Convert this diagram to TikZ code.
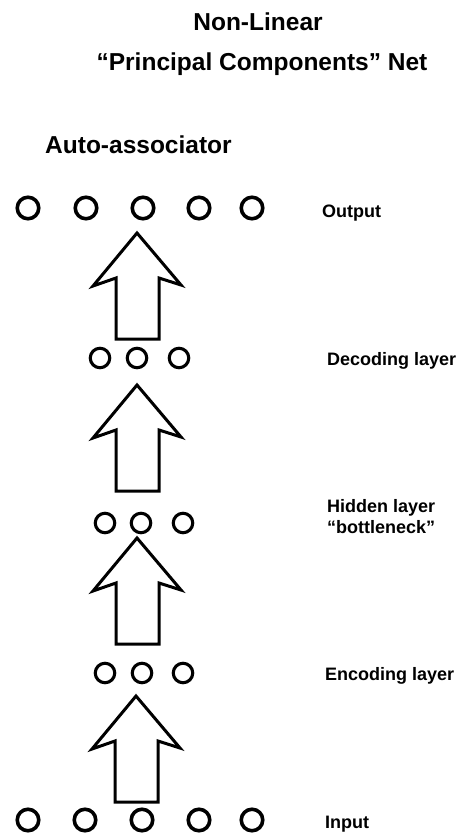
\documentclass[tikz,border=0pt]{standalone}
\usepackage{fontspec}
\setmainfont{Liberation Sans}
\begin{document}
\begin{tikzpicture}[x=1pt,y=-1pt,
  bigunit/.style={circle,draw,line width=3.6pt,minimum size=21.5pt,inner sep=0pt},
  smallunit/.style={circle,draw,line width=3.1pt,minimum size=19.5pt,inner sep=0pt},
  titletext/.style={font=\bfseries\fontsize{24.5}{28}\selectfont,inner sep=0pt},
  labeltext/.style={font=\bfseries\fontsize{18}{22}\selectfont,inner sep=0pt,anchor=base west,align=left},
  blockarrow/.style={line width=3pt,line join=miter,fill=white}]
\useasboundingbox (0,0) rectangle (461,834);
% titles
\node[titletext,anchor=base] (t1) at (258,31) {Non-Linear};
\node[titletext,anchor=base] (t2) at (262,71) {``Principal Components'' Net};
\node[titletext,anchor=base west] (t3) at (45,154) {Auto-associator};
% output layer
\foreach \i/\x in {1/28,2/86,3/143,4/199,5/252}
  \node[bigunit] (o\i) at (\x,208) {};
\node[labeltext] (lo) at (322,218) {Output};
% decoding layer
\foreach \i/\x in {1/100,2/137,3/179}
  \node[smallunit] (d\i) at (\x,358) {};
\node[labeltext] (ld) at (327,365) {Decoding layer};
% hidden layer
\foreach \i/\x in {1/105,2/141,3/183}
  \node[smallunit] (h\i) at (\x,523) {};
\node[labeltext] (lh) at (327,533) {Hidden layer\\[-1.5pt]``bottleneck''};
% encoding layer
\foreach \i/\x in {1/105,2/142,3/183}
  \node[smallunit] (e\i) at (\x,673) {};
\node[labeltext] (le) at (325,680) {Encoding layer};
% input layer
\foreach \i/\x in {1/28,2/85,3/142,4/199,5/252}
  \node[bigunit] (i\i) at (\x,820) {};
\node[labeltext] (li) at (325,828) {Input};
% block arrows: (tip x, tip y)
\newcommand{\blockarr}[2]{%
  \draw[blockarrow] (#1,#2) -- ++(44,52) -- ++(-22,-7) -- ++(0,61) -- ++(-43,0)
     -- ++(0,-61) -- ++(-23,8) -- cycle;}
\blockarr{137}{233}
\blockarr{137}{385}
\blockarr{137}{538}
\blockarr{136}{696}
\end{tikzpicture}
\end{document}
